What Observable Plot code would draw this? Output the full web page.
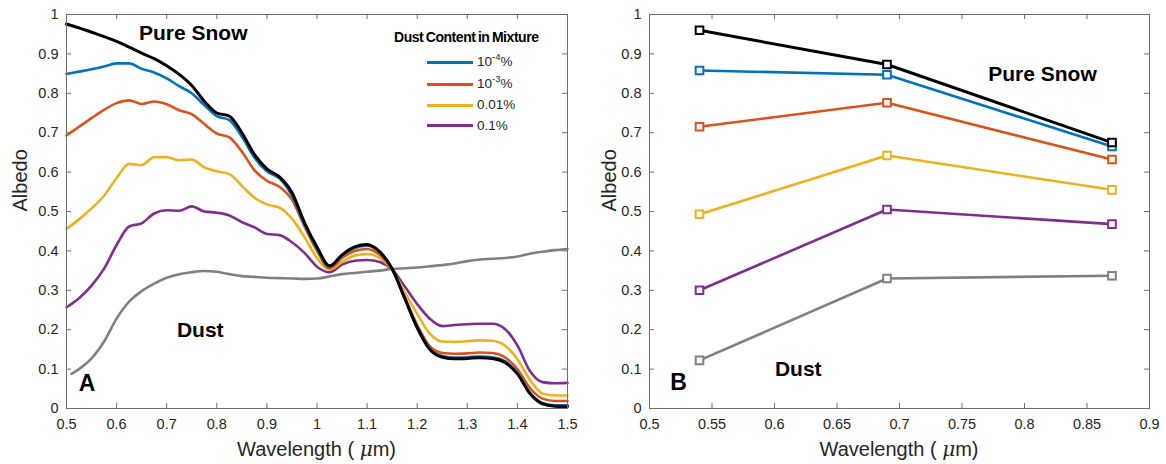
<!DOCTYPE html>
<html>
<head>
<meta charset="utf-8">
<script src="https://cdn.jsdelivr.net/npm/d3@7"></script>
<script src="https://cdn.jsdelivr.net/npm/@observablehq/plot@0.6"></script>
<style>
  body { margin: 0; background: #fff; font-family: "Liberation Sans", Arial, sans-serif; }
  #wrap { position: relative; width: 1166px; height: 464px; overflow: hidden; }
  .panel { position: absolute; top: 0; }
  .xlab { position: absolute; top: 437px; font-size: 20px; color: #262626; transform: translateX(-50%); white-space: nowrap; }
  .lg-title { position: absolute; font-weight: bold; font-size: 14px; letter-spacing: -0.45px; word-spacing: -1px; white-space: nowrap; color: #000; }
  .lg-line { position: absolute; height: 3px; }
  .lg-text { position: absolute; font-size: 13.5px; color: #262626; white-space: nowrap; }
  .lg-text sup { font-size: 9.5px; vertical-align: 0; position: relative; top: -6px; }
</style>
</head>
<body>
<div id="wrap"></div>
<script>
// ---------------- Data ----------------
const seriesNames = ["Pure Snow", "10^-4%", "10^-3%", "0.01%", "0.1%", "Dust"];
const seriesColors = ["#000000", "#0072BD", "#D95319", "#EDB120", "#7E2F8E", "#808080"];
const legendLabelsHtml = ["10<sup>-4</sup>%", "10<sup>-3</sup>%", "0.01%", "0.1%"];

// Panel A: spectral albedo
const wavelengthA = [0.5, 0.525, 0.55, 0.575, 0.6, 0.625, 0.65, 0.675, 0.7, 0.725, 0.75, 0.775, 0.8, 0.825, 0.85, 0.875, 0.9, 0.925, 0.95, 0.975, 1.0, 1.025, 1.05, 1.075, 1.1, 1.125, 1.15, 1.175, 1.2, 1.225, 1.25, 1.275, 1.3, 1.325, 1.35, 1.375, 1.4, 1.425, 1.45, 1.475, 1.5];
const pureSnowA = [0.976, 0.966, 0.955, 0.944, 0.932, 0.917, 0.902, 0.888, 0.870, 0.848, 0.820, 0.780, 0.750, 0.742, 0.700, 0.645, 0.608, 0.588, 0.548, 0.472, 0.410, 0.362, 0.390, 0.410, 0.416, 0.398, 0.355, 0.280, 0.205, 0.150, 0.130, 0.126, 0.127, 0.129, 0.127, 0.117, 0.088, 0.038, 0.012, 0.006, 0.005];
const dust1e4A = [0.849, 0.855, 0.861, 0.868, 0.876, 0.876, 0.862, 0.853, 0.838, 0.818, 0.800, 0.770, 0.742, 0.732, 0.690, 0.637, 0.602, 0.584, 0.540, 0.468, 0.405, 0.360, 0.388, 0.407, 0.413, 0.397, 0.354, 0.280, 0.207, 0.152, 0.133, 0.129, 0.130, 0.132, 0.130, 0.120, 0.090, 0.040, 0.014, 0.008, 0.008];
const dust1e3A = [0.693, 0.715, 0.737, 0.758, 0.775, 0.782, 0.773, 0.779, 0.772, 0.757, 0.747, 0.722, 0.698, 0.688, 0.652, 0.605, 0.578, 0.563, 0.530, 0.462, 0.400, 0.356, 0.382, 0.400, 0.405, 0.390, 0.352, 0.282, 0.212, 0.158, 0.141, 0.139, 0.140, 0.142, 0.141, 0.130, 0.100, 0.052, 0.025, 0.019, 0.019];
const dust001A = [0.456, 0.480, 0.508, 0.540, 0.585, 0.621, 0.618, 0.638, 0.638, 0.630, 0.632, 0.612, 0.602, 0.595, 0.565, 0.535, 0.518, 0.510, 0.482, 0.435, 0.382, 0.353, 0.372, 0.388, 0.392, 0.382, 0.352, 0.295, 0.240, 0.190, 0.170, 0.169, 0.171, 0.173, 0.172, 0.160, 0.125, 0.073, 0.038, 0.033, 0.033];
const dust01A = [0.257, 0.280, 0.312, 0.355, 0.415, 0.462, 0.470, 0.495, 0.503, 0.502, 0.513, 0.500, 0.497, 0.490, 0.473, 0.460, 0.443, 0.440, 0.422, 0.395, 0.360, 0.346, 0.365, 0.375, 0.377, 0.372, 0.353, 0.310, 0.265, 0.228, 0.209, 0.212, 0.214, 0.215, 0.215, 0.202, 0.160, 0.095, 0.067, 0.064, 0.065];
const dustWavelengthA = [0.51, 0.525, 0.55, 0.575, 0.6, 0.625, 0.65, 0.675, 0.7, 0.725, 0.75, 0.775, 0.8, 0.825, 0.85, 0.875, 0.9, 0.925, 0.95, 0.975, 1.0, 1.025, 1.05, 1.075, 1.1, 1.125, 1.15, 1.175, 1.2, 1.225, 1.25, 1.275, 1.3, 1.325, 1.35, 1.375, 1.4, 1.425, 1.45, 1.475, 1.5];
const pureDustA = [0.088, 0.100, 0.127, 0.170, 0.228, 0.271, 0.298, 0.317, 0.332, 0.341, 0.346, 0.349, 0.347, 0.341, 0.336, 0.334, 0.332, 0.331, 0.330, 0.329, 0.330, 0.335, 0.341, 0.344, 0.347, 0.350, 0.354, 0.356, 0.358, 0.361, 0.364, 0.368, 0.374, 0.378, 0.380, 0.382, 0.386, 0.393, 0.398, 0.402, 0.405];

// Panel B: band albedo
const wavelengthB = [0.54, 0.69, 0.87];
const pureSnowB = [0.960, 0.873, 0.675];
const dust1e4B = [0.858, 0.847, 0.665];
const dust1e3B = [0.715, 0.776, 0.632];
const dust001B = [0.493, 0.642, 0.555];
const dust01B = [0.300, 0.505, 0.468];
const pureDustB = [0.122, 0.330, 0.337];

// Ticks
const xTicksA = [0.5, 0.6, 0.7, 0.8, 0.9, 1.0, 1.1, 1.2, 1.3, 1.4, 1.5];
const xTicksB = [0.5, 0.55, 0.6, 0.65, 0.7, 0.75, 0.8, 0.85, 0.9];
const yTicks = [0, 0.1, 0.2, 0.3, 0.4, 0.5, 0.6, 0.7, 0.8, 0.9, 1];

// Annotations
const annotA = [
  {x: 0.753, y: 0.952, t: "Pure Snow", s: 21},
  {x: 0.767, y: 0.198, t: "Dust", s: 21},
  {x: 0.541, y: 0.063, t: "A", s: 23}
];
const annotB = [
  {x: 0.8144, y: 0.849, t: "Pure Snow", s: 21},
  {x: 0.619, y: 0.099, t: "Dust", s: 21},
  {x: 0.5232, y: 0.066, t: "B", s: 23}
];

// ---------------- Drawing ----------------
const FONT = '"Liberation Sans", Arial, sans-serif';
const AXIS = "#6f6f6f";
const fmt = d3.format("~g");
const wrap = document.getElementById("wrap");

function zipSeries(xs, ys) { return xs.map((x, i) => ({x, y: ys[i]})); }

function panel({left, width, marginLeft, marginRight, xDomain, xTicks, seriesA, markers, annot, albedoDx}) {
  const plotW = width - marginLeft - marginRight;
  const plotH = 464 - 14 - 56;
  const marks = [
    Plot.tickX(xTicks, {x: d => d, insetTop: plotH - 5, stroke: AXIS}),
    Plot.tickX(xTicks, {x: d => d, insetBottom: plotH - 5, stroke: AXIS}),
    Plot.tickY(yTicks, {y: d => d, insetRight: plotW - 5, stroke: AXIS}),
    Plot.tickY(yTicks, {y: d => d, insetLeft: plotW - 5, stroke: AXIS}),
    Plot.axisX(xTicks, {tickSize: 0, tickPadding: 10, tickFormat: fmt, label: null, fontSize: 14.5}),
    Plot.axisY(yTicks, {tickSize: 0, tickPadding: 8, tickFormat: fmt, label: null, fontSize: 14.5}),
    Plot.text(["Albedo"], {frameAnchor: "left", dx: albedoDx, rotate: -90, fontSize: 20, fill: "#262626"})
  ];
  // draw from dust up to pure snow so black is on top
  for (let k = seriesA.length - 1; k >= 0; k--) {
    const s = seriesA[k];
    marks.push(Plot.line(s.data, {x: "x", y: "y", stroke: s.color, strokeWidth: s.color === "#000000" ? 3 : 2.6, curve: markers ? "linear" : "monotone-x"}));
    if (markers) {
      marks.push(Plot.dot(s.data, {x: "x", y: "y", symbol: "square", r: 4.3, stroke: s.color, strokeWidth: 2, fill: "white"}));
    }
  }
  marks.push(Plot.text(annot, {x: "x", y: "y", text: "t", fontSize: d => d.s, fontWeight: "bold", fill: "#000"}));
  marks.push(Plot.frame({stroke: AXIS}));
  const svg = Plot.plot({
    width, height: 464,
    marginLeft, marginRight, marginTop: 14, marginBottom: 56,
    x: {domain: xDomain},
    y: {domain: [0, 1]},
    style: {fontFamily: FONT, fontSize: "14.5px", color: "#262626", background: "transparent", overflow: "visible"},
    marks
  });
  svg.classList.add("panel");
  svg.style.left = left + "px";
  wrap.appendChild(svg);
  const xl = document.createElement("div");
  xl.className = "xlab";
  xl.style.left = (left + marginLeft + plotW / 2) + "px";
  xl.innerHTML = 'Wavelength ( <i style="font-family:\'DejaVu Serif\',serif">&mu;</i>m)';
  wrap.appendChild(xl);
}

const seriesListA = [
  {color: seriesColors[0], data: zipSeries(wavelengthA, pureSnowA)},
  {color: seriesColors[1], data: zipSeries(wavelengthA, dust1e4A)},
  {color: seriesColors[2], data: zipSeries(wavelengthA, dust1e3A)},
  {color: seriesColors[3], data: zipSeries(wavelengthA, dust001A)},
  {color: seriesColors[4], data: zipSeries(wavelengthA, dust01A)},
  {color: seriesColors[5], data: zipSeries(dustWavelengthA, pureDustA)}
];
const seriesListB = [pureSnowB, dust1e4B, dust1e3B, dust001B, dust01B, pureDustB]
  .map((ys, i) => ({color: seriesColors[i], data: zipSeries(wavelengthB, ys)}));

panel({left: 0, width: 583, marginLeft: 66, marginRight: 16, xDomain: [0.5, 1.5], xTicks: xTicksA, seriesA: seriesListA, markers: false, annot: annotA, albedoDx: -46});
panel({left: 583, width: 583, marginLeft: 66, marginRight: 17, xDomain: [0.5, 0.9], xTicks: xTicksB, seriesA: seriesListB, markers: true, annot: annotB, albedoDx: -40});

// Legend (inside panel A)
const lgTitle = document.createElement("div");
lgTitle.className = "lg-title";
lgTitle.style.left = "394px";
lgTitle.style.top = "29px";
lgTitle.textContent = "Dust Content in Mixture";
wrap.appendChild(lgTitle);
const rowY = [62, 84, 105, 125.5];
legendLabelsHtml.forEach((lab, i) => {
  const ln = document.createElement("div");
  ln.className = "lg-line";
  ln.style.left = "427px";
  ln.style.width = "46px";
  ln.style.top = (rowY[i] - 1.5) + "px";
  ln.style.background = seriesColors[i + 1];
  wrap.appendChild(ln);
  const tx = document.createElement("div");
  tx.className = "lg-text";
  tx.style.left = "477px";
  tx.style.top = (rowY[i] - 8) + "px";
  tx.innerHTML = lab;
  wrap.appendChild(tx);
});
</script>
</body>
</html>
